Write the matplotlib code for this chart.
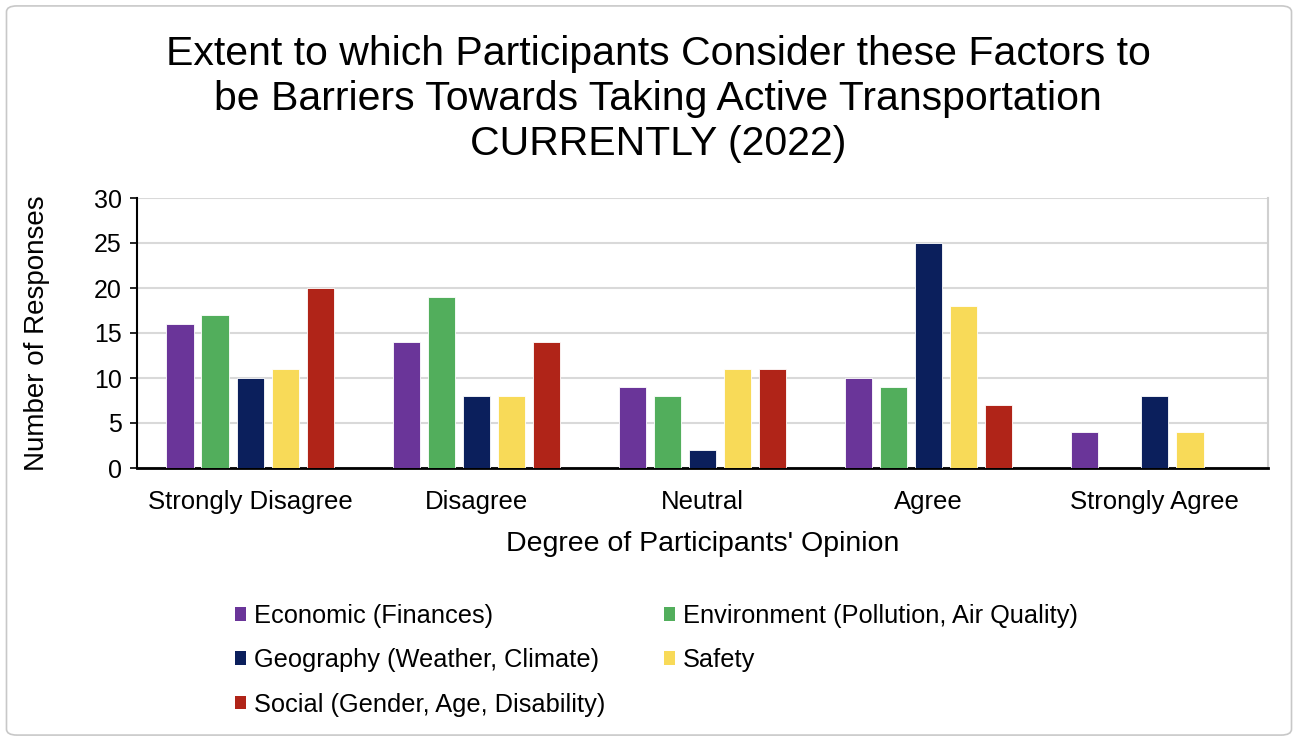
import matplotlib.pyplot as plt
import numpy as np
from matplotlib.patches import FancyBboxPatch, Patch

plt.rcParams['font.family'] = ['Liberation Sans', 'DejaVu Sans']

categories = ["Strongly Disagree", "Disagree", "Neutral", "Agree", "Strongly Agree"]
series_names = [
    "Economic (Finances)",
    "Environment (Pollution, Air Quality)",
    "Geography (Weather, Climate)",
    "Safety",
    "Social (Gender, Age, Disability)",
]
economic = [16, 14, 9, 10, 4]
environment = [17, 19, 8, 9, 0]
geography = [10, 8, 2, 25, 8]
safety = [11, 8, 11, 18, 4]
social = [20, 14, 11, 7, 0]
series_values = [economic, environment, geography, safety, social]
colors = ["#6a3599", "#52ae5c", "#0b1f5c", "#f8da58", "#b02418"]
y_ticks = [0, 5, 10, 15, 20, 25, 30]

W, H = 1298, 741
fig = plt.figure(figsize=(W / 100, H / 100), dpi=100)
border = FancyBboxPatch((0.005, 0.008), 0.99, 0.984, boxstyle="round,pad=0,rounding_size=0.008",
                        transform=fig.transFigure, facecolor="none", edgecolor="#c8c8c8",
                        linewidth=1.2, zorder=-1)
fig.patches.append(border)

ax = fig.add_axes([137 / W, 1 - 468 / H, (1268 - 137) / W, (468 - 198) / H])
ax.set_facecolor("none")

x = np.arange(len(categories))
width = 0.12
step = 0.155
for i, (vals, c) in enumerate(zip(series_values, colors)):
    offs = (i - 2) * step
    ax.bar(x + offs, vals, width=width, color=c, edgecolor="white", linewidth=0.6,
           label=series_names[i], zorder=3)

ax.set_xlim(-0.5, len(categories) - 0.5)
ax.set_ylim(0, 30)
ax.set_yticks(y_ticks)
ax.set_yticklabels([str(t) for t in y_ticks], fontsize=18)
ax.set_xticks(x)
ax.set_xticklabels(categories, fontsize=18.5)
ax.tick_params(axis="x", length=0, pad=16)
ax.tick_params(axis="y", length=5, width=1.2, direction="out", pad=6)
ax.yaxis.grid(True, color="#d9d9d9", linewidth=1.5, zorder=0)
ax.set_axisbelow(True)
ax.spines["top"].set_visible(False)
ax.spines["right"].set_color("#d0d0d0")
ax.spines["right"].set_linewidth(1.5)
ax.spines["left"].set_linewidth(1.5)
ax.spines["bottom"].set_linewidth(2)

ax.set_ylabel("Number of Responses", fontsize=20)
ax.yaxis.set_label_coords(-(137 - 50) / (1268 - 137), 0.5)
ax.set_xlabel("Degree of Participants' Opinion", fontsize=20.5, labelpad=12)

fig.text(0.507, 0.7805, "Extent to which Participants Consider these Factors to\n"
         "be Barriers Towards Taking Active Transportation\nCURRENTLY (2022)",
         ha="center", va="bottom", fontsize=29.5, linespacing=1.22)

# legend filled row by row: reorder so matplotlib's column-major fill reads across rows
order = [0, 2, 4, 1, 3]
handles = [Patch(facecolor=colors[k], edgecolor="none") for k in order]
labels = [series_names[k] for k in order]
leg = fig.legend(handles, labels, loc="upper left", bbox_to_anchor=(212 / W, 1 - 581 / H),
                 ncol=2, frameon=False, fontsize=18.3, handlelength=0.45, handleheight=0.45,
                 handletextpad=0.3, columnspacing=2.3, labelspacing=0.8)

fig.savefig("out.png", dpi=100)
